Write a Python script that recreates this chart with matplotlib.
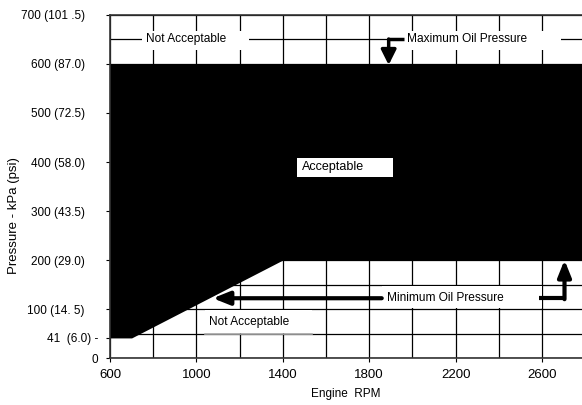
import matplotlib
matplotlib.use("Agg")
import matplotlib.pyplot as plt
import matplotlib.transforms as mtransforms
from matplotlib.patches import Rectangle
from matplotlib.ticker import MultipleLocator

plt.rcParams['font.family'] = ['Liberation Sans', 'DejaVu Sans']

# band of acceptable oil pressure
rpm = [600, 700, 1400, 2800]
min_kpa = [41, 41, 200, 200]
max_kpa = [600, 600, 600, 600]

x_ticks = [600, 1000, 1400, 1800, 2200, 2600]
y_ticks = [0, 41, 100, 200, 300, 400, 500, 600, 700]
y_labels = ["0", "41  (6.0) -", "100 (14. 5)", "200 (29.0)", "300 (43.5)",
            "400 (58.0)", "500 (72.5)", "600 (87.0)", "700 (101 .5)"]

fig = plt.figure(figsize=(5.82, 4.05), dpi=100)
ax = fig.add_axes([0.189, 0.116, 0.811, 0.847])
ax.set_xlim(600, 2785)
ax.set_ylim(0, 700)

# grid (200 rpm / 50 kPa)
ax.xaxis.set_minor_locator(MultipleLocator(200))
ax.yaxis.set_minor_locator(MultipleLocator(50))
ax.xaxis.remove_overlapping_locs = False
ax.yaxis.remove_overlapping_locs = False
ax.grid(which='minor', color='black', linewidth=0.9, zorder=1)
ax.set_axisbelow(True)

ax.fill_between(rpm, min_kpa, max_kpa, color='black', linewidth=0, zorder=2)

ax.set_xticks(x_ticks)
ax.set_yticks(y_ticks)
ax.set_yticklabels(y_labels)
ax.tick_params(which='major', direction='out', length=3, width=0.8, labelsize=8.5)
ax.tick_params(which='minor', length=0)
ax.tick_params(axis='x', pad=5, labelsize=9.5)
ax.tick_params(axis='y', pad=15)
# the 0 and 41 labels sit closer to the axis
for i, dx in [(0, 13), (1, 13)]:
    lbl = ax.get_yticklabels()[i]
    lbl.set_transform(lbl.get_transform() +
                      mtransforms.ScaledTranslation(dx / 100, 0, fig.dpi_scale_trans))
for s in ['top', 'left', 'bottom']:
    ax.spines[s].set_linewidth(1.2)
    ax.spines[s].set_color('#333333')
ax.spines['right'].set_visible(False)

ax.set_xlabel("Engine  RPM", fontsize=8.5, labelpad=5)
ax.set_ylabel("Pressure - kPa (psi)", fontsize=9.5)
ax.yaxis.set_label_coords(-0.19, 0.415)

# white label boxes
def box(x0, x1, y0, y1):
    ax.add_patch(Rectangle((x0, y0), x1 - x0, y1 - y0, facecolor='white',
                           edgecolor='none', zorder=3))

box(748, 1243, 628, 668)
ax.text(765, 650, "Not Acceptable", fontsize=8.6, va='center', zorder=4)

box(1960, 2690, 628, 668)
ax.text(1975, 650, "Maximum Oil Pressure", fontsize=8.6, va='center', zorder=4)
ax.plot([1962, 1890], [650, 650], color='black', lw=2.5, zorder=4,
        solid_capstyle='butt')
ax.annotate("", xy=(1890, 598), xytext=(1890, 651),
            arrowprops=dict(arrowstyle='-|>,head_width=0.45,head_length=0.9',
                            color='black', lw=2.5, shrinkA=0, shrinkB=0), zorder=4)

ax.add_patch(Rectangle((1465, 369), 444, 39, facecolor='white',
                       edgecolor='none', zorder=3))
ax.text(1488, 389, "Acceptable", fontsize=9, va='center', zorder=4)

box(1860, 2600, 103, 147)
ax.text(1880, 122, "Minimum Oil Pressure", fontsize=8.6, va='center', zorder=4)
ax.annotate("", xy=(1076, 122), xytext=(1858, 122),
            arrowprops=dict(arrowstyle='-|>,head_width=0.4,head_length=1.0',
                            color='black', lw=3, shrinkA=0, shrinkB=0), zorder=4)
ax.plot([2588, 2704], [122, 122], color='black', lw=3, zorder=4,
        solid_capstyle='butt')
ax.annotate("", xy=(2704, 200), xytext=(2704, 120),
            arrowprops=dict(arrowstyle='-|>,head_width=0.4,head_length=1.0',
                            color='black', lw=3, shrinkA=0, shrinkB=0), zorder=4)

box(1040, 1535, 52, 98)
ax.plot([1040, 1535], [50, 50], color='#aaaaaa', lw=1.2, zorder=3)
ax.text(1060, 73, "Not Acceptable", fontsize=8.6, va='center', zorder=4)

fig.savefig("out.png", dpi=100)
